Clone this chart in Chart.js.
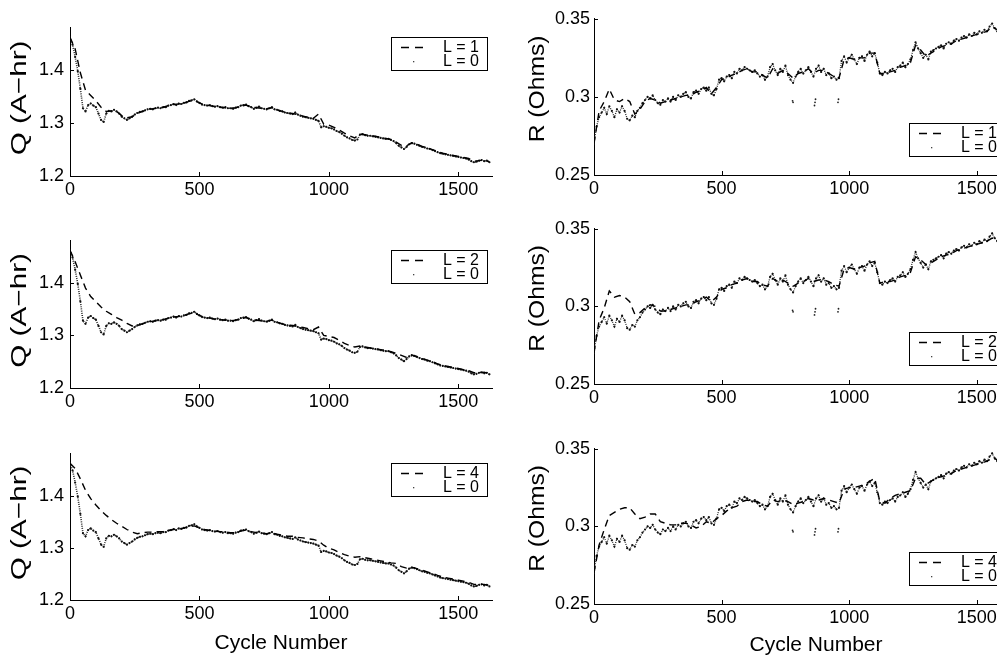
<!DOCTYPE html>
<html>
<head>
<meta charset="utf-8">
<script src="https://cdn.jsdelivr.net/npm/chart.js@4.4.1/dist/chart.umd.min.js"></script>
<style>
html, body { margin: 0; padding: 0; background: #fff; overflow: hidden; width: 997px; height: 658px; }
canvas { position: absolute; }
</style>
</head>
<body>
<canvas id="q1"></canvas>
<canvas id="q2"></canvas>
<canvas id="q3"></canvas>
<canvas id="r1"></canvas>
<canvas id="r2"></canvas>
<canvas id="r3"></canvas>
<script>
/*==== data ====*/
const cycles10 = [
  0,10,20,30,40,50,60,70,80,90,
  100,110,120,130,140,150,160,170,180,190,
  200,210,220,230,240,250,260,270,280,290,
  300,310,320,330,340,350,360,370,380,390,
  400,410,420,430,440,450,460,470,480,490,
  500,510,520,530,540,550,560,570,580,590,
  600,610,620,630,640,650,660,670,680,690,
  700,710,720,730,740,750,760,770,780,790,
  800,810,820,830,840,850,860,870,880,890,
  900,910,920,930,940,950,960,970,980,990,
  1000,1010,1020,1030,1040,1050,1060,1070,1080,1090,
  1100,1110,1120,1130,1140,1150,1160,1170,1180,1190,
  1200,1210,1220,1230,1240,1250,1260,1270,1280,1290,
  1300,1310,1320,1330,1340,1350,1360,1370,1380,1390,
  1400,1410,1420,1430,1440,1450,1460,1470,1480,1490,
  1500,1510,1520,1530,1540,1550,1560,1570,1580,1590,
  1600,1610,1620
];
const cycles20 = [
  0,20,40,60,80,100,120,140,160,180,
  200,220,240,260,280,300,320,340,360,380,
  400,420,440,460,480,500,520,540,560,580,
  600,620,640,660,680,700,720,740,760,780,
  800,820,840,860,880,900,920,940,960,980,
  1000,1020,1040,1060,1080,1100,1120,1140,1160,1180,
  1200,1220,1240,1260,1280,1300,1320,1340,1360,1380,
  1400,1420,1440,1460,1480,1500,1520,1540,1560,1580,
  1600,1620
];

// capacity, L = 0 (measured)
const qL0 = [
  1.462,1.448,1.425,1.398,1.365,1.328,1.322,1.334,1.337,1.333,
  1.330,1.318,1.306,1.302,1.318,1.323,1.322,1.325,1.322,1.318,
  1.312,1.309,1.306,1.309,1.312,1.316,1.319,1.321,1.322,1.324,
  1.326,1.327,1.326,1.328,1.329,1.328,1.330,1.330,1.333,1.334,
  1.336,1.334,1.337,1.336,1.338,1.339,1.342,1.343,1.345,1.341,
  1.338,1.335,1.334,1.333,1.334,1.332,1.331,1.332,1.330,1.329,
  1.330,1.328,1.328,1.327,1.329,1.330,1.333,1.334,1.335,1.332,
  1.330,1.327,1.329,1.331,1.328,1.327,1.326,1.328,1.330,1.326,
  1.325,1.323,1.322,1.320,1.319,1.318,1.317,1.320,1.316,1.314,
  1.312,1.311,1.310,1.309,1.308,1.306,1.304,1.292,1.294,1.293,
  1.291,1.290,1.288,1.285,1.283,1.280,1.276,1.273,1.271,1.268,
  1.267,1.269,1.278,1.279,1.277,1.276,1.276,1.275,1.274,1.273,
  1.272,1.271,1.270,1.270,1.268,1.266,1.262,1.257,1.254,1.251,
  1.255,1.260,1.262,1.261,1.259,1.257,1.255,1.254,1.252,1.251,
  1.249,1.247,1.245,1.243,1.242,1.241,1.240,1.239,1.238,1.237,
  1.236,1.235,1.234,1.233,1.231,1.228,1.226,1.227,1.229,1.230,
  1.228,1.229,1.226
];
// capacity, smoothed L = 1, 2, 4
const qL1 = [
  1.462,1.440,1.395,1.362,1.352,1.342,1.330,1.322,1.323,1.322,
  1.314,1.310,1.312,1.318,1.322,1.326,1.327,1.329,1.330,1.333,
  1.335,1.336,1.338,1.341,1.343,1.338,1.334,1.333,1.331,1.330,
  1.329,1.328,1.329,1.332,1.334,1.330,1.329,1.328,1.327,1.329,
  1.325,1.322,1.319,1.318,1.316,1.313,1.311,1.309,1.317,1.298,
  1.296,1.292,1.287,1.281,1.276,1.272,1.279,1.278,1.276,1.275,
  1.273,1.271,1.269,1.264,1.258,1.257,1.263,1.260,1.256,1.253,
  1.250,1.246,1.243,1.241,1.239,1.237,1.235,1.233,1.228,1.229,
  1.230,1.227
];
const qL2 = [
  1.462,1.440,1.415,1.390,1.374,1.364,1.354,1.346,1.340,1.334,
  1.329,1.323,1.318,1.319,1.322,1.326,1.327,1.329,1.330,1.333,
  1.335,1.336,1.338,1.341,1.343,1.338,1.334,1.333,1.331,1.330,
  1.329,1.328,1.329,1.332,1.334,1.330,1.329,1.328,1.327,1.329,
  1.325,1.322,1.320,1.319,1.317,1.315,1.313,1.311,1.316,1.300,
  1.298,1.296,1.291,1.285,1.281,1.278,1.280,1.278,1.276,1.275,
  1.273,1.271,1.269,1.266,1.262,1.258,1.263,1.260,1.256,1.253,
  1.250,1.246,1.243,1.241,1.239,1.237,1.235,1.233,1.229,1.229,
  1.230,1.227
];
const qL4 = [
  1.462,1.452,1.432,1.410,1.394,1.382,1.371,1.362,1.354,1.347,
  1.341,1.335,1.330,1.327,1.329,1.330,1.330,1.331,1.331,1.333,
  1.335,1.336,1.338,1.340,1.342,1.338,1.335,1.333,1.332,1.331,
  1.330,1.329,1.329,1.332,1.334,1.331,1.329,1.328,1.327,1.329,
  1.326,1.324,1.322,1.322,1.320,1.319,1.317,1.316,1.313,1.305,
  1.299,1.296,1.291,1.287,1.284,1.282,1.283,1.281,1.279,1.277,
  1.275,1.273,1.271,1.270,1.264,1.261,1.263,1.260,1.257,1.254,
  1.251,1.247,1.244,1.242,1.240,1.238,1.236,1.234,1.230,1.230,
  1.230,1.228
];

// resistance, L = 0 (measured)
const rL0 = [
  0.270,0.281,0.287,0.290,0.293,0.289,0.294,0.291,0.287,0.292,
  0.290,0.294,0.291,0.286,0.285,0.288,0.287,0.291,0.293,0.296,
  0.298,0.300,0.299,0.301,0.298,0.296,0.295,0.298,0.297,0.299,
  0.297,0.300,0.298,0.301,0.300,0.302,0.303,0.300,0.299,0.303,
  0.304,0.302,0.305,0.306,0.304,0.306,0.302,0.301,0.305,0.311,
  0.312,0.310,0.313,0.314,0.312,0.316,0.315,0.318,0.317,0.319,
  0.318,0.317,0.316,0.317,0.315,0.313,0.314,0.311,0.313,0.319,
  0.321,0.317,0.314,0.318,0.316,0.320,0.314,0.311,0.309,0.313,
  0.316,0.318,0.315,0.317,0.319,0.316,0.313,0.318,0.320,0.316,
  0.318,0.314,0.315,0.312,0.313,0.311,0.312,0.323,0.326,0.322,
  0.325,0.327,0.324,0.321,0.325,0.326,0.323,0.327,0.329,0.326,
  0.328,0.322,0.315,0.314,0.316,0.315,0.317,0.318,0.316,0.319,
  0.320,0.322,0.319,0.321,0.324,0.330,0.335,0.331,0.328,0.325,
  0.327,0.324,0.329,0.330,0.331,0.332,0.333,0.331,0.334,0.335,
  0.334,0.336,0.337,0.336,0.338,0.339,0.338,0.340,0.339,0.341,
  0.340,0.342,0.341,0.343,0.342,0.345,0.347,0.344,0.342,0.339,
  0.338,0.337,0.336
];
// isolated low readings of the L = 0 resistance
const rOutCycles = [778, 780, 864, 866, 868, 956, 958];
const rOutValues = [0.2975, 0.2965, 0.2945, 0.2965, 0.2985, 0.2965, 0.2985];

// resistance, smoothed L = 1, 2, 4
const rL1 = [
  0.270,0.291,0.297,0.305,0.298,0.297,0.299,0.297,0.289,0.292,
  0.297,0.299,0.298,0.296,0.297,0.298,0.299,0.300,0.301,0.301,
  0.303,0.304,0.306,0.302,0.306,0.311,0.312,0.314,0.315,0.317,
  0.318,0.316,0.316,0.314,0.312,0.318,0.315,0.317,0.315,0.312,
  0.315,0.316,0.318,0.315,0.317,0.317,0.315,0.313,0.312,0.324,
  0.325,0.324,0.325,0.325,0.328,0.328,0.315,0.315,0.316,0.317,
  0.319,0.320,0.322,0.333,0.330,0.326,0.328,0.330,0.332,0.333,
  0.334,0.336,0.337,0.338,0.339,0.340,0.341,0.342,0.345,0.343,
  0.339,0.337
];
const rL2 = [
  0.270,0.291,0.299,0.310,0.306,0.307,0.306,0.303,0.295,0.296,
  0.299,0.301,0.300,0.297,0.297,0.298,0.299,0.300,0.301,0.301,
  0.303,0.304,0.306,0.303,0.306,0.311,0.312,0.314,0.315,0.317,
  0.318,0.316,0.316,0.314,0.313,0.318,0.316,0.317,0.315,0.313,
  0.315,0.316,0.318,0.316,0.317,0.317,0.316,0.314,0.313,0.324,
  0.325,0.324,0.325,0.326,0.328,0.329,0.315,0.316,0.316,0.317,
  0.319,0.320,0.322,0.332,0.330,0.327,0.328,0.330,0.332,0.333,
  0.334,0.336,0.337,0.338,0.339,0.340,0.341,0.342,0.344,0.343,
  0.339,0.337
];
const rL4 = [
  0.270,0.288,0.298,0.307,0.309,0.311,0.312,0.312,0.308,0.305,
  0.306,0.308,0.308,0.303,0.302,0.301,0.301,0.302,0.302,0.301,
  0.299,0.300,0.303,0.302,0.305,0.307,0.310,0.312,0.313,0.316,
  0.317,0.316,0.316,0.314,0.313,0.317,0.316,0.317,0.316,0.314,
  0.315,0.316,0.318,0.317,0.317,0.318,0.317,0.316,0.315,0.324,
  0.325,0.325,0.326,0.327,0.329,0.331,0.316,0.315,0.318,0.320,
  0.321,0.322,0.323,0.331,0.331,0.327,0.329,0.331,0.332,0.333,
  0.334,0.336,0.337,0.338,0.339,0.340,0.341,0.342,0.344,0.343,
  0.339,0.337
];

const cycleTicks = [0, 500, 1000, 1500];
const qTicks = [1.2, 1.3, 1.4];
const rTicks = [0.25, 0.3, 0.35];

/*==== helpers ====*/
const FONT = '"Liberation Sans", Arial, Helvetica, sans-serif';

function pts(xs, ys) {
  return xs.map(function(x, i) { return { x: x, y: ys[i] }; });
}

// MATLAB style tick marks pointing into the axes
const inwardTicks = {
  id: 'inwardTicks',
  afterDraw: function(chart) {
    const ctx = chart.ctx, a = chart.chartArea;
    const xs = chart.scales.x, ys = chart.scales.y;
    ctx.save();
    ctx.strokeStyle = '#000';
    ctx.lineWidth = 1;
    ctx.beginPath();
    xs.ticks.forEach(function(t) {
      const px = Math.round(xs.getPixelForValue(t.value)) + 0.5;
      ctx.moveTo(px, a.bottom);
      ctx.lineTo(px, a.bottom - 4);
    });
    ys.ticks.forEach(function(t) {
      const py = Math.round(ys.getPixelForValue(t.value)) + 0.5;
      ctx.moveTo(a.left, py);
      ctx.lineTo(a.left + 4, py);
    });
    ctx.stroke();
    ctx.restore();
  }
};

// boxed legend inside the axes
const boxLegend = {
  id: 'boxLegend',
  afterDraw: function(chart, args, opts) {
    const ctx = chart.ctx, a = chart.chartArea;
    const items = chart.data.datasets.filter(function(d) { return d.legendText; });
    const w = 96, h = 33;
    const x = Math.round(a.right - 5 - w);
    const y = Math.round(opts.corner === 'top' ? a.top + 9 : a.bottom - 19 - h);
    ctx.save();
    ctx.fillStyle = '#fff';
    ctx.fillRect(x, y, w, h);
    ctx.strokeStyle = '#000';
    ctx.lineWidth = 1;
    ctx.strokeRect(x + 0.5, y + 0.5, w, h);
    ctx.font = '16px ' + FONT;
    ctx.textAlign = 'right';
    ctx.textBaseline = 'middle';
    items.forEach(function(d, i) {
      const ry = y + 10 + i * 14;
      if (d.legendKind === 'dash') {
        ctx.setLineDash([8, 6]);
        ctx.lineWidth = 1.3;
        ctx.beginPath();
        ctx.moveTo(x + 10, ry + 0.5);
        ctx.lineTo(x + 34, ry + 0.5);
        ctx.stroke();
        ctx.setLineDash([]);
      } else {
        ctx.fillStyle = '#444';
        ctx.fillRect(x + 22, ry, 1.3, 1.3);
      }
      ctx.fillStyle = '#000';
      ctx.fillText(d.legendText, x + w - 8, ry + 1);
    });
    ctx.restore();
  }
};

// axis labels
const axisTitles = {
  id: 'axisTitles',
  afterDraw: function(chart, args, opts) {
    const ctx = chart.ctx, a = chart.chartArea;
    ctx.save();
    ctx.fillStyle = '#000';
    ctx.textAlign = 'center';
    ctx.textBaseline = 'middle';
    ctx.font = opts.ySize + 'px ' + FONT;
    ctx.translate(a.left - opts.yOff, (a.top + a.bottom) / 2 + opts.yShift);
    ctx.rotate(-Math.PI / 2);
    ctx.scale(opts.yStretch, 1);
    ctx.fillText(opts.yTitle, 0, 0);
    ctx.restore();
    if (opts.xTitle) {
      ctx.save();
      ctx.fillStyle = '#000';
      ctx.textAlign = 'center';
      ctx.textBaseline = 'top';
      ctx.font = '21px ' + FONT;
      ctx.fillText(opts.xTitle, (a.left + a.right) / 2 + opts.xShift, a.bottom + opts.xOff);
      ctx.restore();
    }
  }
};

function dashedSet(label, ys) {
  return {
    legendText: label, legendKind: 'dash',
    data: pts(cycles20, ys),
    showLine: true, borderColor: '#000', borderWidth: 1.4, borderDash: [7, 5],
    pointRadius: 0, tension: 0
  };
}
function dottedSet(ys, width) {
  return {
    legendText: 'L = 0', legendKind: 'dot',
    data: pts(cycles10, ys),
    showLine: true, borderColor: '#2a2a2a', borderWidth: width, borderDash: [1, 1.2],
    pointRadius: 1.1, pointBorderWidth: 0, pointBackgroundColor: '#111', tension: 0
  };
}
function outlierSet() {
  return {
    data: pts(rOutCycles, rOutValues),
    showLine: false, pointRadius: 0.9, pointBorderWidth: 0, pointBackgroundColor: '#222'
  };
}

/*==== panels ====*/
function makePanel(id, box, cfg) {
  const padTop = 12, padRight = 12, yw = 70;
  const xh = cfg.xTitle ? 60 : 30;
  const cv = document.getElementById(id);
  cv.width = (box.right - box.left) + yw + padRight;
  cv.height = (box.bottom - box.top) + padTop + xh;
  cv.style.left = (box.left - yw) + 'px';
  cv.style.top = (box.top - padTop) + 'px';
  return new Chart(cv, {
    type: 'scatter',
    data: { datasets: cfg.datasets },
    plugins: [inwardTicks, boxLegend, axisTitles],
    options: {
      responsive: false,
      animation: false,
      devicePixelRatio: 1,
      layout: { padding: { top: padTop, right: padRight, left: 0, bottom: 0 } },
      plugins: {
        legend: { display: false },
        tooltip: { enabled: false },
        boxLegend: { corner: cfg.corner },
        axisTitles: {
          yTitle: cfg.yTitle, ySize: 22, yOff: cfg.yOff, yShift: cfg.yShift, yStretch: cfg.yStretch,
          xTitle: cfg.xTitle, xOff: cfg.xOff, xShift: cfg.xShift
        }
      },
      scales: {
        x: {
          type: 'linear', min: 0, max: 1630,
          grid: { display: false, drawTicks: false },
          border: { display: true, color: '#000', width: 1 },
          ticks: {
            color: '#000', font: { family: FONT, size: 18 }, padding: 3, maxRotation: 0,
            callback: function(v) { return String(v); }
          },
          afterBuildTicks: function(s) { s.ticks = cycleTicks.map(function(v) { return { value: v }; }); },
          afterFit: function(s) { s.height = xh; }
        },
        y: {
          type: 'linear', min: cfg.yMin, max: cfg.yMax,
          grid: { display: false, drawTicks: false },
          border: { display: true, color: '#000', width: 1 },
          ticks: {
            color: '#000', font: { family: FONT, size: 18 }, padding: cfg.yPad,
            callback: function(v) { return String(v); }
          },
          afterBuildTicks: function(s) { s.ticks = cfg.yTicks.map(function(v) { return { value: v }; }); },
          afterFit: function(s) { s.width = yw; }
        }
      }
    }
  });
}

const qBoxes = [
  { left: 70, top: 23, right: 492, bottom: 176 },
  { left: 70, top: 236, right: 492, bottom: 388 },
  { left: 70, top: 449, right: 492, bottom: 600 }
];
const rBoxes = [
  { left: 594, top: 16, right: 1010, bottom: 175 },
  { left: 594, top: 226, right: 1010, bottom: 384 },
  { left: 594, top: 446, right: 1010, bottom: 604 }
];
const qSmooth = [['L = 1', qL1], ['L = 2', qL2], ['L = 4', qL4]];
const rSmooth = [['L = 1', rL1], ['L = 2', rL2], ['L = 4', rL4]];

['q1', 'q2', 'q3'].forEach(function(id, i) {
  makePanel(id, qBoxes[i], {
    datasets: [dashedSet(qSmooth[i][0], qSmooth[i][1]), dottedSet(qL0, 1.6)],
    corner: 'top', yMin: 1.2, yMax: 1.48, yTicks: qTicks, yPad: 6,
    yTitle: 'Q (A\u2212hr)', yOff: 50, yShift: -4, yStretch: 1.35,
    xTitle: i === 2 ? 'Cycle Number' : '', xOff: 33, xShift: 0
  });
});
['r1', 'r2', 'r3'].forEach(function(id, i) {
  makePanel(id, rBoxes[i], {
    datasets: [dashedSet(rSmooth[i][0], rSmooth[i][1]), dottedSet(rL0, 1.3), outlierSet()],
    corner: 'bottom', yMin: 0.25, yMax: 0.35, yTicks: rTicks, yPad: 4,
    yTitle: 'R (Ohms)', yOff: 56, yShift: -8, yStretch: 1.12,
    xTitle: i === 2 ? 'Cycle Number' : '', xOff: 31, xShift: 14
  });
});
</script>
</body>
</html>
